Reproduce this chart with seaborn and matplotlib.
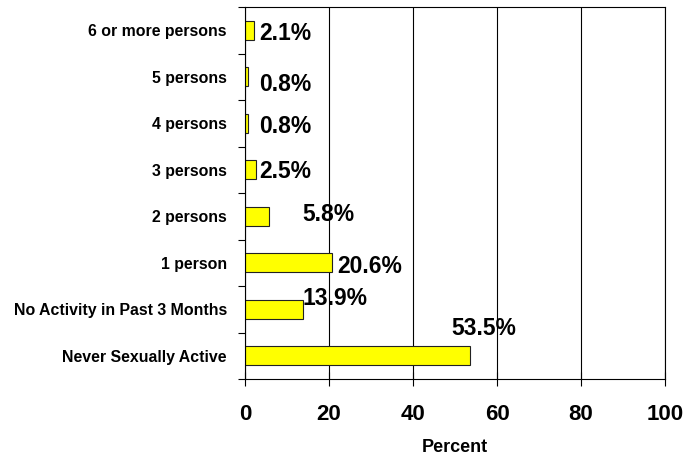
import matplotlib
matplotlib.use("Agg")
import matplotlib.pyplot as plt
import seaborn as sns
import pandas as pd
from matplotlib.ticker import FixedLocator

categories = ["6 or more persons", "5 persons", "4 persons", "3 persons",
              "2 persons", "1 person", "No Activity in Past 3 Months",
              "Never Sexually Active"]
values = [2.1, 0.8, 0.8, 2.5, 5.8, 20.6, 13.9, 53.5]
labels = ["2.1%", "0.8%", "0.8%", "2.5%", "5.8%", "20.6%", "13.9%", "53.5%"]
x_ticks = [0, 20, 40, 60, 80, 100]

# manual label placement (data-x of label left edge, y offset in category units)
label_x = [3.4, 3.4, 3.4, 3.4, 13.6, 22.0, 13.8, 49.2]
label_dy = [0.08, 0.17, 0.08, 0.04, -0.03, 0.09, -0.24, -0.58]

sns.set_theme(style="white")
plt.rcParams['font.family'] = ['Liberation Sans', 'DejaVu Sans']

df = pd.DataFrame({"cat": categories, "val": values})

fig = plt.figure(figsize=(6.97, 4.55), dpi=100)
ax = fig.add_axes([245/697, 1 - 379/455, 420/697, 372/455])

sns.barplot(data=df, x="val", y="cat", orient="h", order=categories,
            color="#FFFF00", edgecolor="#222222", linewidth=0.8,
            width=0.41, saturation=1, ax=ax)

ax.set_xlim(0, 100)
ax.set_ylim(len(categories) - 0.5, -0.5)
ax.set_xticks(x_ticks)
ax.set_xticklabels([str(t) for t in x_ticks], fontsize=16, fontweight="bold")
ax.tick_params(axis="x", which="major", bottom=True, direction="inout",
               length=10, width=0.8, pad=13, colors="black")
ax.tick_params(axis="y", which="major", left=False, length=0, pad=13)
ax.yaxis.set_minor_locator(FixedLocator([i - 0.5 for i in range(len(categories) + 1)]))
ax.tick_params(axis="y", which="minor", left=True, direction="out",
               length=5, width=0.8, color="black")
for t in ax.get_yticklabels():
    t.set_fontsize(11.4)
    t.set_fontweight("bold")
    t.set_color("black")

ax.set_ylabel("")
ax.set_xlabel("Percent", fontsize=13, fontweight="bold", labelpad=10, color="black")

ax.xaxis.grid(True, color="black", linewidth=0.8)
ax.set_axisbelow(True)
for s in ax.spines.values():
    s.set_color("black")
    s.set_linewidth(0.8)

for i, (lab, lx, dy) in enumerate(zip(labels, label_x, label_dy)):
    ax.text(lx, i + dy, lab, ha="left", va="center", fontsize=16.5,
            fontweight="bold", color="black")

fig.savefig("out.png", dpi=100)
